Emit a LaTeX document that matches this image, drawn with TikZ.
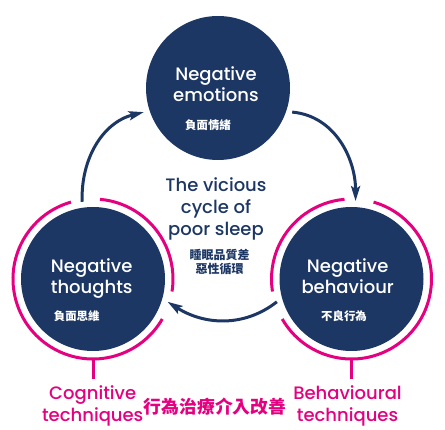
\documentclass[tikz,border=0pt]{standalone}
\usepackage{fontspec}
\usetikzlibrary{arrows.meta}
\IfFontExistsTF{Poppins Medium}{\setmainfont{Poppins Medium}}{\setmainfont{Poppins}}
\newfontfamily\cjk{Noto Sans CJK TC}
\definecolor{navy}{RGB}{29,55,100}
\definecolor{techpink}{RGB}{228,0,127}
\tikzset{
  stage/.style={circle,fill=navy,minimum size=144pt,inner sep=0pt,outer sep=6pt},
  stagetext/.style={text=white,align=center,anchor=base,font=\fontsize{18}{21}\selectfont},
  stagecjk/.style={text=white,anchor=base,font=\cjk\bfseries\fontsize{11.4}{13}\selectfont},
  ring/.style={techpink,line width=3pt},
  cyclearrow/.style={navy,line width=3pt,-{Stealth[length=15pt,width=9pt,inset=3pt]}},
}
\begin{document}
\begin{tikzpicture}[x=1pt,y=1pt,every node/.style={inner sep=0pt}]
  \useasboundingbox (0,0) rectangle (445,429);
  % the three stages
  \node[stage] (emotions) at (218,341) {};
  \node[stage] (thoughts) at (93,150) {};
  \node[stage] (behaviour) at (351.5,150) {};
  \node[stagetext] (emotxt) at (216,327.3) {Negative\\emotions};
  \node[stagecjk] (emocjk) at (208,299.8) {負面情緒};
  \node[stagetext] (thotxt) at (91.7,135.7) {Negative\\thoughts};
  \node[stagecjk] (thocjk) at (76.7,108.1) {負面思維};
  \node[stagetext] (behtxt) at (347.7,135.7) {Negative\\behaviour};
  \node[stagecjk] (behcjk) at (344,108.1) {不良行為};
  % cycle arrows
  \draw[cyclearrow] (thoughts.98) to[out=92,in=194] (emotions.198);
  \draw[cyclearrow] (emotions.-18) to[out=-5,in=90] (behaviour.87);
  \draw[cyclearrow] (behaviour.197) to[out=218,in=-32.5] (thoughts.-17.5);
  % centre title
  \node[text=navy,align=center,anchor=base,font=\fontsize{18}{22.2}\selectfont] (title) at (216,193) {The vicious\\cycle of\\poor sleep};
  \node[text=navy,align=center,anchor=base,font=\cjk\bfseries\fontsize{12}{14.3}\selectfont] (titlecjk) at (219.5,155.1) {睡眠品質差\\惡性循環};
  % technique rings
  \draw[ring] ([shift={(85:80pt)}]thoughts.center) arc[start angle=85,end angle=-9,radius=80pt];
  \draw[ring] ([shift={(106:80pt)}]thoughts.center) arc[start angle=106,end angle=330,radius=80pt];
  \draw[ring] ([shift={(95:80pt)}]behaviour.center) arc[start angle=95,end angle=189,radius=80pt];
  \draw[ring] ([shift={(210:80pt)}]behaviour.center) arc[start angle=210,end angle=434,radius=80pt];
  \draw[ring] ([yshift=-80pt]thoughts.center) -- ++(0,-20pt);
  \draw[ring] ([yshift=-80pt]behaviour.center) -- ++(0,-20pt);
  % technique labels
  \node[text=techpink,align=center,anchor=base,font=\fontsize{18}{22}\selectfont] (cogn) at (92.7,7.6) {Cognitive\\techniques};
  \node[text=techpink,align=center,anchor=base,font=\fontsize{18}{22}\selectfont] (behav) at (347.5,7.6) {Behavioural\\techniques};
  \node[text=techpink,anchor=base,font=\cjk\bfseries\fontsize{17.8}{20}\selectfont] (treat) at (215,15.2) {行為治療介入改善};
\end{tikzpicture}
\end{document}
